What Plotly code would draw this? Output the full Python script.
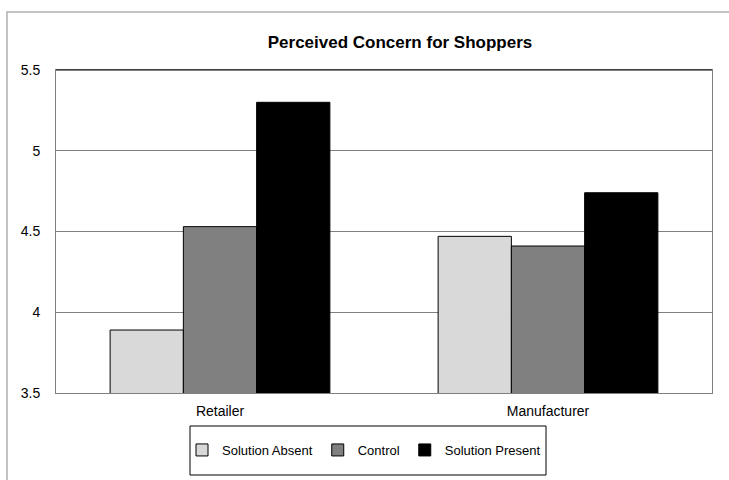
import plotly.graph_objects as go

categories = ["Retailer", "Manufacturer"]
series_names = ["Solution Absent", "Control", "Solution Present"]
solution_absent = [3.89, 4.47]
control = [4.53, 4.41]
solution_present = [5.30, 4.74]
y_ticks = [3.5, 4, 4.5, 5, 5.5]
y_tick_labels = ["3.5", "4", "4.5", "5", "5.5"]

colors = ["#d9d9d9", "#808080", "#000000"]
values = [solution_absent, control, solution_present]

FONT = "Arial, Liberation Sans, Helvetica, sans-serif"
W, H = 729, 480
L, R, T, B = 56, 17, 70, 87
pw, ph = W - L - R, H - T - B

def px_x(x):
    return (x - L) / pw

def px_y(y):
    return (H - B - y) / ph

fig = go.Figure()
for name, vals, col in zip(series_names, values, colors):
    fig.add_trace(go.Bar(
        x=categories, y=vals, name=name,
        marker=dict(color=col, line=dict(color="#000000", width=1)),
    ))

fig.update_layout(
    width=W, height=H,
    margin=dict(l=L, r=R, t=T, b=B, pad=0),
    paper_bgcolor="white", plot_bgcolor="white",
    barmode="group", bargap=0.33, bargroupgap=0,
    font=dict(family=FONT, size=13, color="#000000"),
    title=dict(text="<b>Perceived Concern for Shoppers</b>",
               font=dict(family=FONT, size=17, color="#000000"),
               x=400 / W, xanchor="center",
               y=1 - 42 / H, yanchor="middle", xref="container", yref="container"),
    showlegend=True,
    legend=dict(orientation="h", x=px_x(364), xanchor="center",
                y=px_y(450), yanchor="middle",
                font=dict(family=FONT, size=13), bgcolor="rgba(0,0,0,0)",
                borderwidth=0, traceorder="normal", itemwidth=30),
    xaxis=dict(showgrid=False, showline=True, mirror=True, linecolor="#808080", linewidth=1,
               ticks="", tickfont=dict(size=14), ticklabelstandoff=5, zeroline=False),
    yaxis=dict(range=[3.5, 5.5], tickvals=y_ticks, ticktext=y_tick_labels,
               showgrid=True, gridcolor="#808080", gridwidth=1,
               showline=True, mirror=True, linecolor="#808080", linewidth=1,
               ticks="", tickfont=dict(size=14), ticklabelstandoff=12, zeroline=False),
    shapes=[
        # outer chart border (extends past right/bottom edge as in the reference)
        dict(type="rect", xref="paper", yref="paper",
             x0=px_x(7), x1=px_x(745), y0=px_y(495), y1=px_y(12),
             line=dict(color="#b0b0b0", width=1.5), fillcolor="rgba(0,0,0,0)", layer="below"),
        # plot area top edge darker
        dict(type="line", xref="paper", yref="paper", x0=0, x1=1, y0=1, y1=1,
             line=dict(color="#000000", width=1)),
        # legend box
        dict(type="rect", xref="paper", yref="paper",
             x0=px_x(190), x1=px_x(546), y0=px_y(475), y1=px_y(426),
             line=dict(color="#000000", width=1), fillcolor="rgba(0,0,0,0)"),
    ],
)

fig.write_html("out.html")
